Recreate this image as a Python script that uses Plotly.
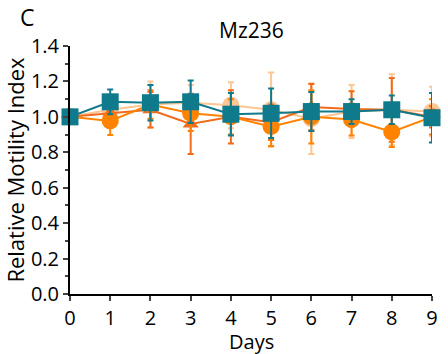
import plotly.graph_objects as go

days = [0, 1, 2, 3, 4, 5, 6, 7, 8, 9]

light_vals = [1.0, 1.04, 1.07, 1.08, 1.065, 1.04, 0.99, 1.03, 1.04, 1.03]
light_err = [0, 0.06, 0.13, 0.10, 0.13, 0.21, 0.20, 0.15, 0.20, 0.14]

tri_vals = [1.0, 1.02, 1.04, 0.96, 1.0, 0.97, 1.055, 1.045, 1.04, 1.0]
tri_err = [0, 0.05, 0.10, 0.17, 0.15, 0.10, 0.13, 0.10, 0.18, 0.06]

orange_vals = [1.0, 0.977, 1.07, 1.02, 1.0, 0.945, 1.0, 0.985, 0.915, 1.0]
orange_err = [0, 0.08, 0.08, 0.10, 0.10, 0.11, 0.15, 0.09, 0.085, 0.10]

teal_vals = [1.0, 1.085, 1.08, 1.085, 1.015, 1.02, 1.03, 1.03, 1.04, 0.995]
teal_err = [0, 0.07, 0.10, 0.12, 0.12, 0.14, 0.11, 0.07, 0.08, 0.14]

y_ticks = [0.0, 0.2, 0.4, 0.6, 0.8, 1.0, 1.2, 1.4]
x_ticks = days

series = [
    (light_vals, light_err, "#FDB877", "circle", 17, 0.8),
    (tri_vals, tri_err, "#F26A1B", "triangle-up", 14, 1.0),
    (orange_vals, orange_err, "#FF8200", "circle", 17, 1.0),
    (teal_vals, teal_err, "#0E7A8C", "square", 17, 1.0),
]

fig = go.Figure()
for vals, err, color, sym, size, op in series:
    fig.add_trace(go.Scatter(
        x=days, y=vals, mode="lines+markers",
        line=dict(color=color, width=2),
        marker=dict(symbol=sym, size=size, color=color),
        error_y=dict(type="data", array=err, visible=True, color=color,
                     thickness=2, width=3),
        opacity=op, cliponaxis=False, showlegend=False,
    ))

font_family = "Open Sans, Noto Sans, sans-serif"
fig.update_layout(
    width=448, height=354,
    margin=dict(l=70, r=10, t=46, b=60),
    plot_bgcolor="white", paper_bgcolor="white",
    font=dict(family=font_family, size=20, color="black"),
    xaxis=dict(range=[0, 9], tickvals=x_ticks, ticks="outside", ticklen=5,
               tickwidth=2, showline=True, linecolor="black", linewidth=2,
               showgrid=False, zeroline=False, tickfont=dict(size=20)),
    yaxis=dict(range=[0, 1.4], tickvals=y_ticks, tickformat=".1f",
               ticks="outside", ticklen=5, tickwidth=2, tickfont=dict(size=20),
               showline=True, linecolor="black", linewidth=2,
               showgrid=False, zeroline=False,
               minor=dict(dtick=0.1, ticks="outside", ticklen=3, tickwidth=1.5),
               title=dict(text="Relative Motility Index", standoff=2, font=dict(size=22))),
    annotations=[
        dict(text="C", xref="paper", yref="paper", x=-0.145, y=1.115,
             xanchor="left", yanchor="middle", showarrow=False, font=dict(size=23)),
        dict(text="Mz236", xref="paper", yref="paper", x=0.5, y=1.065,
             xanchor="center", yanchor="middle", showarrow=False, font=dict(size=21)),
        dict(text="Days", xref="paper", yref="paper", x=0.5, y=-0.19,
             xanchor="center", yanchor="middle", showarrow=False, font=dict(size=20)),
    ],
)

fig.write_html("out.html")
